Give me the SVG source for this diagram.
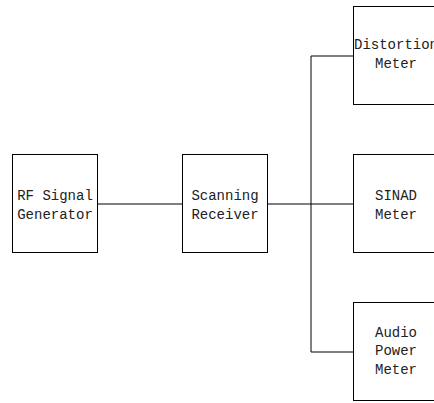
<svg xmlns="http://www.w3.org/2000/svg" width="434" height="403" viewBox="0 0 434 403">
<style>
.box{fill:#fff;stroke:#000;stroke-width:1}
.lbl{font-family:"Liberation Mono","Courier New",monospace;font-size:14px;fill:#222;text-anchor:middle}
.wire{fill:none;stroke:#000;stroke-width:1}
</style>
<rect width="434" height="403" fill="#fff"/>
<g id="connectors">
<path class="wire" d="M97.5 204H182.5"/>
<path class="wire" d="M267.5 204H311"/>
<path class="wire" d="M353.5 56H311V352H353.5"/>
<path class="wire" d="M311 204H353.5"/>
</g>
<g id="rf">
<rect class="box" x="12.5" y="154.5" width="85" height="98"/>
<text class="lbl" x="55" y="200">RF Signal</text>
<text class="lbl" x="55" y="219">Generator</text>
</g>
<g id="scan">
<rect class="box" x="182.5" y="154.5" width="85" height="98"/>
<text class="lbl" x="225" y="200">Scanning</text>
<text class="lbl" x="225" y="219">Receiver</text>
</g>
<g id="dist">
<rect class="box" x="353.5" y="6.5" width="85" height="98"/>
<text class="lbl" x="396" y="49">Distortion</text>
<text class="lbl" x="396" y="67.5">Meter</text>
</g>
<g id="sinad">
<rect class="box" x="353.5" y="154.5" width="85" height="98"/>
<text class="lbl" x="396" y="200">SINAD</text>
<text class="lbl" x="396" y="219">Meter</text>
</g>
<g id="audio">
<rect class="box" x="353.5" y="302.5" width="85" height="98"/>
<text class="lbl" x="396" y="336.5">Audio</text>
<text class="lbl" x="396" y="355">Power</text>
<text class="lbl" x="396" y="373.5">Meter</text>
</g>
</svg>
